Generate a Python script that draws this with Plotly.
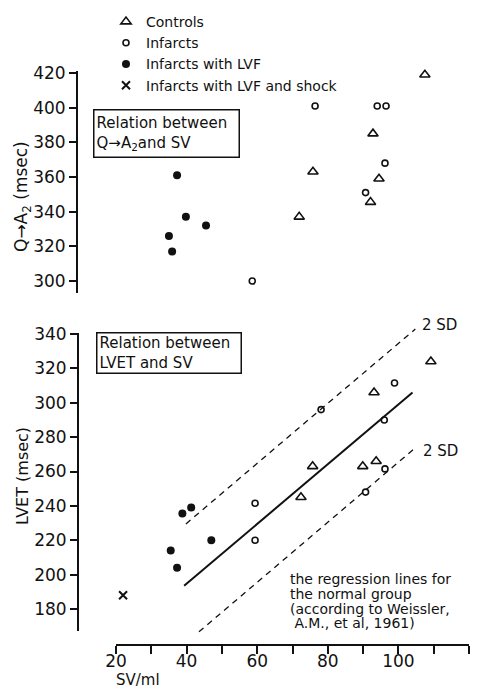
import plotly.graph_objects as go

# ---------------- data ----------------
# Upper panel: Q->A2 (msec) vs SV (ml)
CTRL_SV_Q = [107.5, 92.8, 75.8, 71.9, 94.5, 92.1]
CTRL_Q = [419, 385, 363, 337, 359, 345.5]
INF_SV_Q = [76.4, 94.0, 96.5, 96.2, 90.7, 58.6]
INF_Q = [401, 401, 401, 368, 351, 300]
LVF_SV_Q = [37.3, 39.8, 45.5, 35.0, 35.9]
LVF_Q = [361, 337, 332, 326, 317]

# Lower panel: LVET (msec) vs SV (ml)
CTRL_SV_L = [109.2, 93.1, 75.7, 72.4, 89.9, 93.7]
CTRL_L = [324, 306, 263, 245, 263, 266]
INF_SV_L = [98.9, 78.1, 96.0, 59.4, 59.4, 90.7, 96.2]
INF_L = [311.5, 296, 290, 241.5, 220, 248, 261.5]
LVF_SV_L = [38.8, 41.3, 47.0, 35.5, 37.3]
LVF_L = [235.5, 239, 220, 214, 204]
SHOCK_SV_L = [22]
SHOCK_L = [188]

# Regression lines for the normal group (Weissler et al., 1961)
REG_SV = [39.3, 104.0]
REG_L = [193.5, 306.0]
UPPER_SD_SV = [39.8, 104.8]
UPPER_SD_L = [229.5, 342.9]
LOWER_SD_SV = [43.5, 104.8]
LOWER_SD_L = [166.7, 273.8]

Q_TICKS = [300, 320, 340, 360, 380, 400, 420]
L_TICKS = [180, 200, 220, 240, 260, 280, 300, 320, 340]
SV_TICKS = [20, 30, 40, 50, 60, 70, 80, 90, 100, 110, 120]
SV_LABELS = ["20", " ", "40", " ", "60", " ", "80", " ", "100", " ", "120"]

LEGEND_NAMES = ["Controls", "Infarcts", "Infarcts with LVF", "Infarcts with LVF and shock"]
NOTE_LINES = ["the regression lines for", "the normal group",
              "(according to Weissler,", " A.M., et al, 1961)"]

# ---------------- layout helpers (pixel geometry) ----------------
W, H = 482, 691
FONT = "DejaVu Sans"
BLACK = "#111111"


def fx(px):
    return px / W


def fy(py):
    return 1 - py / H


SV_PX = 3.53            # px per ml
X0_PX = 116             # pixel of SV=20
def sv_at(px):
    return 20 + (px - X0_PX) / SV_PX

Q_PX = 208 / 120        # px per msec (upper)
def q_at(py):
    return 420 - (py - 73) / Q_PX

L_PX = 275 / 160        # px per msec (lower)
def l_at(py):
    return 340 - (py - 334) / L_PX


fig = go.Figure()

tri = dict(symbol="triangle-up-open", size=9, color=BLACK, line=dict(width=1.6, color=BLACK))
circ = dict(symbol="circle-open", size=6, color=BLACK, line=dict(width=1.6, color=BLACK))
dot = dict(symbol="circle", size=8, color=BLACK)
cross = dict(symbol="x-thin-open", size=8, color=BLACK, line=dict(width=2, color=BLACK))

# upper panel
fig.add_trace(go.Scatter(x=CTRL_SV_Q, y=CTRL_Q, mode="markers", marker=tri, name=LEGEND_NAMES[0],
                         xaxis="x", yaxis="y", cliponaxis=False))
fig.add_trace(go.Scatter(x=INF_SV_Q, y=INF_Q, mode="markers", marker=circ, name=LEGEND_NAMES[1],
                         xaxis="x", yaxis="y", cliponaxis=False))
fig.add_trace(go.Scatter(x=LVF_SV_Q, y=LVF_Q, mode="markers", marker=dot, name=LEGEND_NAMES[2],
                         xaxis="x", yaxis="y", cliponaxis=False))
# lower panel
fig.add_trace(go.Scatter(x=SHOCK_SV_L, y=SHOCK_L, mode="markers", marker=cross, name=LEGEND_NAMES[3],
                         xaxis="x", yaxis="y2", cliponaxis=False))
fig.add_trace(go.Scatter(x=CTRL_SV_L, y=CTRL_L, mode="markers", marker=tri, showlegend=False,
                         xaxis="x", yaxis="y2", cliponaxis=False))
fig.add_trace(go.Scatter(x=INF_SV_L, y=INF_L, mode="markers", marker=circ, showlegend=False,
                         xaxis="x", yaxis="y2", cliponaxis=False))
fig.add_trace(go.Scatter(x=LVF_SV_L, y=LVF_L, mode="markers", marker=dot, showlegend=False,
                         xaxis="x", yaxis="y2", cliponaxis=False))
fig.add_trace(go.Scatter(x=REG_SV, y=REG_L, mode="lines", line=dict(color=BLACK, width=2),
                         showlegend=False, xaxis="x", yaxis="y2"))
for xs, ys in [(UPPER_SD_SV, UPPER_SD_L), (LOWER_SD_SV, LOWER_SD_L)]:
    fig.add_trace(go.Scatter(x=xs, y=ys, mode="lines",
                             line=dict(color=BLACK, width=1.3, dash="6px,5px"),
                             showlegend=False, xaxis="x", yaxis="y2"))
# display-only axes (empty traces so they are drawn)
fig.add_trace(go.Scatter(x=[None], y=[None], xaxis="x2", yaxis="y3", showlegend=False, hoverinfo="skip"))

axis_common = dict(showgrid=False, zeroline=False, showline=True, linecolor=BLACK, linewidth=2,
                   ticks="outside", ticklen=7, tickwidth=2, tickcolor=BLACK, automargin=False,
                   tickfont=dict(family=FONT, size=17, color=BLACK), fixedrange=True)

fig.update_layout(
    width=W, height=H,
    margin=dict(l=0, r=0, t=0, b=0, autoexpand=False),
    paper_bgcolor="white", plot_bgcolor="rgba(0,0,0,0)",
    font=dict(family=FONT, color=BLACK),
    xaxis=dict(domain=[fx(78), 1], range=[sv_at(78), sv_at(W)], visible=False, fixedrange=True,
               automargin=False),
    yaxis=dict(axis_common, domain=[fy(293), fy(71)], range=[q_at(293), q_at(71)],
               anchor="x", tickvals=Q_TICKS),
    yaxis2=dict(domain=[fy(640), fy(318)], range=[l_at(640), l_at(318)], anchor="x",
                visible=False, fixedrange=True, automargin=False),
    yaxis3=dict(axis_common, domain=[fy(631), fy(333)], range=[l_at(631), l_at(333)],
                anchor="free", position=fx(78), tickvals=L_TICKS),
    xaxis2=dict(axis_common, domain=[fx(116), fx(469)], range=[20, 120], anchor="free",
                position=fy(645), tickvals=SV_TICKS, ticktext=SV_LABELS, ticklen=8,
                ticklabelstandoff=-7),
    legend=dict(x=fx(106), y=fy(6), xanchor="left", yanchor="top",
                font=dict(family=FONT, size=14, color=BLACK), bgcolor="rgba(0,0,0,0)",
                tracegroupgap=0, itemwidth=30),
    showlegend=True,
)


def label(text, px, py, size, xanchor="left", yanchor="middle", **kw):
    return dict(text=text, x=fx(px), y=fy(py), xref="paper", yref="paper",
                xanchor=xanchor, yanchor=yanchor, showarrow=False,
                font=dict(size=size, family=FONT, color=BLACK), **kw)


ann = []
# axis titles
ann.append(label("Q→A<sub>2</sub> (msec)", 22, 197, 17, xanchor="center", textangle=-90))
ann.append(label("LVET (msec)", 22, 476, 16, xanchor="center", textangle=-90))
ann.append(label("SV/ml", 114, 680, 15))
# boxes
ann.append(label("Relation between<br>Q→A<sub>2</sub>and SV", 93, 109, 15, yanchor="top",
                 align="left", bordercolor=BLACK, borderwidth=1.5, borderpad=2,
                 width=140, height=42, valign="middle"))
ann.append(label("Relation between<br>LVET and SV", 96, 332, 15, yanchor="top",
                 align="left", bordercolor=BLACK, borderwidth=1.5, borderpad=2,
                 width=139, height=35, valign="middle"))
# 2 SD labels
ann.append(label("2 SD", 420, 325, 15))
ann.append(label("2 SD", 421, 451, 15))
# note
for i, line in enumerate(NOTE_LINES):
    ann.append(label(line, 288, 579 + i * 14.8, 14))
fig.update_layout(annotations=ann)

fig.write_html("out.html", config={"displayModeBar": False},
               post_script="document.body.style.margin='0';document.body.style.overflow='hidden';")
